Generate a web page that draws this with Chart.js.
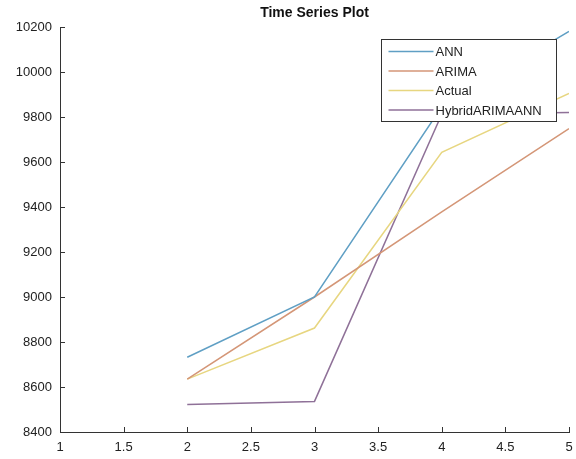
<!DOCTYPE html>
<html>
<head>
<meta charset="utf-8">
<script src="https://cdn.jsdelivr.net/npm/chart.js@4.4.1/dist/chart.umd.min.js"></script>
<style>
  html, body { margin: 0; padding: 0; background: #fff; }
  #wrap { width: 576px; height: 459px; }
</style>
</head>
<body>
<div id="wrap"><canvas id="chart"></canvas></div>
<script>
// Data
const X_VALUES = [2, 3, 4, 5];
const ANN = [8732, 9000, 9845, 10180];
const ARIMA = [8635, 9000, 9378, 9748];
const ACTUAL = [8635, 8862, 9643, 9905];
const HYBRID = [8522, 8536, 9812, 9820];
const SERIES_NAMES = ["ANN", "ARIMA", "Actual", "HybridARIMAANN"];
const SERIES_COLORS = ["#5f9fc4", "#d49677", "#e7d680", "#8f7198"];

const FONT = "'Liberation Sans', Arial, sans-serif";

const toPoints = (vals) => vals.map((v, i) => ({ x: X_VALUES[i], y: v }));

// Title, inward ticks and legend box drawn on top
const extras = {
  id: "extras",
  afterDraw(chart) {
    const { ctx, chartArea, scales } = chart;
    ctx.save();

    // title
    ctx.fillStyle = "#111";
    ctx.font = "bold 14px " + FONT;
    ctx.textAlign = "center";
    ctx.textBaseline = "middle";
    ctx.fillText("Time Series Plot", (chartArea.left + chartArea.right) / 2, 13);

    // inward tick marks
    ctx.strokeStyle = "#333";
    ctx.lineWidth = 1;
    ctx.beginPath();
    scales.x.ticks.forEach((t) => {
      const px = Math.round(scales.x.getPixelForValue(t.value)) + 0.5;
      ctx.moveTo(px, chartArea.bottom);
      ctx.lineTo(px, chartArea.bottom - 5);
    });
    scales.y.ticks.forEach((t) => {
      const py = Math.round(scales.y.getPixelForValue(t.value)) + 0.5;
      ctx.moveTo(chartArea.left, py);
      ctx.lineTo(chartArea.left + 5, py);
    });
    ctx.stroke();

    // legend
    const bx = 381.5, by = 39.5, bw = 175, bh = 82;
    ctx.fillStyle = "#fff";
    ctx.fillRect(bx, by, bw, bh);
    ctx.strokeStyle = "#333";
    ctx.strokeRect(bx, by, bw, bh);
    ctx.font = "13px " + FONT;
    ctx.textAlign = "left";
    chart.data.datasets.forEach((ds, i) => {
      const y = by + 12 + i * 19.5;
      ctx.strokeStyle = ds.borderColor;
      ctx.lineWidth = 1.5;
      ctx.beginPath();
      ctx.moveTo(bx + 7, y);
      ctx.lineTo(bx + 52, y);
      ctx.stroke();
      ctx.fillStyle = "#222";
      ctx.fillText(ds.label, bx + 54, y + 1);
    });
    ctx.restore();
  },
};

const DATA = {
  datasets: [ANN, ARIMA, ACTUAL, HYBRID].map((vals, i) => ({
    label: SERIES_NAMES[i],
    data: toPoints(vals),
    borderColor: SERIES_COLORS[i],
    backgroundColor: SERIES_COLORS[i],
    borderWidth: 1.5,
    pointRadius: 0,
    tension: 0,
    fill: false,
  })),
};

const CONFIG = {
  type: "line",
  data: DATA,
  options: {
    responsive: true,
    maintainAspectRatio: false,
    animation: false,
    layout: { padding: { top: 27, right: 7, left: 0, bottom: 0 } },
    plugins: {
      legend: { display: false },
      title: { display: false },
      tooltip: { enabled: false },
    },
    scales: {
      x: {
        type: "linear",
        min: 1,
        max: 5,
        border: { display: true, color: "#333", width: 1 },
        grid: { display: false, drawTicks: false },
        ticks: {
          stepSize: 0.5,
          color: "#222",
          padding: 8,
          maxRotation: 0,
          font: { size: 13, family: FONT },
          callback: (v) => String(v),
        },
        afterFit: (s) => {
          s.height = 27;
          s.paddingRight = 0;
          s.paddingLeft = 0;
        },
      },
      y: {
        min: 8400,
        max: 10200,
        border: { display: true, color: "#333", width: 1 },
        grid: { display: false, drawTicks: false },
        ticks: {
          stepSize: 200,
          color: "#222",
          padding: 8,
          font: { size: 13, family: FONT },
          callback: (v) => String(v),
        },
        afterFit: (s) => {
          s.width = 60;
          s.paddingTop = 0;
          s.paddingBottom = 0;
        },
      },
    },
  },
  plugins: [extras],
};

new Chart(document.getElementById("chart"), CONFIG);
</script>
</body>
</html>
